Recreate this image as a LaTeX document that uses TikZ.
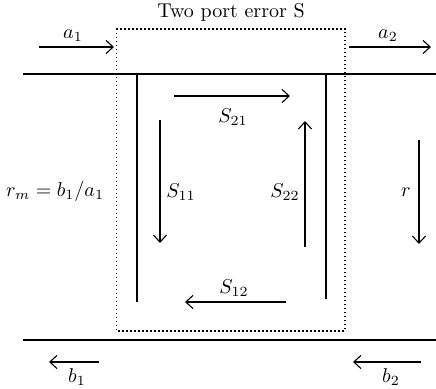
\documentclass[tikz,border=0pt]{standalone}
\usetikzlibrary{arrows.meta}
\begin{document}
\begin{tikzpicture}[
  x=0.5pt, y=-0.5pt,
  font=\normalsize,
  wire/.style={line width=0.55pt},
  arr/.style={-{Straight Barb[length=3.6pt,width=6.6pt]}, line width=0.55pt},
  lbl/.style={inner sep=1pt},
  errbox/.style={line width=0.6pt, dash pattern=on 0.6pt off 1.4pt}
]
\useasboundingbox (0,0) rectangle (436,389);
% lines of the transmission line
\coordinate (tl) at (23,74);   \coordinate (tr) at (436,74);
\coordinate (bl) at (23,340);  \coordinate (br) at (436,340);
\draw[wire] (tl) -- (tr);
\draw[wire] (bl) -- (br);
% error box
\coordinate (boxnw) at (116.5,29);
\coordinate (boxse) at (345,331);
\draw[errbox] (boxnw) rectangle (boxse);
\node[lbl] (title) at (231,12) {Two port error S};
% inner stubs
\coordinate (l1) at (137,74);  \coordinate (l2) at (137,302);
\coordinate (r1) at (326,74);  \coordinate (r2) at (326,299);
\draw[wire] (l1) -- (l2);
\draw[wire] (r1) -- (r2);
% incident and reflected waves
\coordinate (a1s) at (39,47);  \coordinate (a1e) at (114,47);
\coordinate (a2s) at (349,47); \coordinate (a2e) at (431,47);
\coordinate (b1s) at (99,362); \coordinate (b1e) at (49,362);
\coordinate (b2s) at (421,362); \coordinate (b2e) at (353,362);
\draw[arr] (a1s) -- (a1e);
\draw[arr] (a2s) -- (a2e);
\draw[arr] (b1s) -- (b1e);
\draw[arr] (b2s) -- (b2e);
\node[lbl] (a1) at (73,36) {$a_1$};
\node[lbl] (a2) at (388,36) {$a_2$};
\node[lbl] (b1) at (77,377) {$b_1$};
\node[lbl] (b2) at (391,377) {$b_2$};
% S parameters
\coordinate (s21s) at (174,96);  \coordinate (s21e) at (290,96);
\coordinate (s11s) at (160,120); \coordinate (s11e) at (160,243);
\coordinate (s22s) at (305,247); \coordinate (s22e) at (305,121);
\coordinate (s12s) at (286,302); \coordinate (s12e) at (185,302);
\coordinate (rs) at (419,140);   \coordinate (re) at (419,244);
\draw[arr] (s21s) -- (s21e);
\draw[arr] (s11s) -- (s11e);
\draw[arr] (s22s) -- (s22e);
\draw[arr] (s12s) -- (s12e);
\draw[arr] (rs) -- (re);
\node[lbl] (S21) at (233,117) {$S_{21}$};
\node[lbl] (S11) at (181,192) {$S_{11}$};
\node[lbl] (S22) at (285,192) {$S_{22}$};
\node[lbl] (S12) at (234,288) {$S_{12}$};
\node[lbl] (r) at (406,192) {$r$};
\node[lbl] (rm) at (55,192) {$r_m = b_1/a_1$};
\end{tikzpicture}
\end{document}
